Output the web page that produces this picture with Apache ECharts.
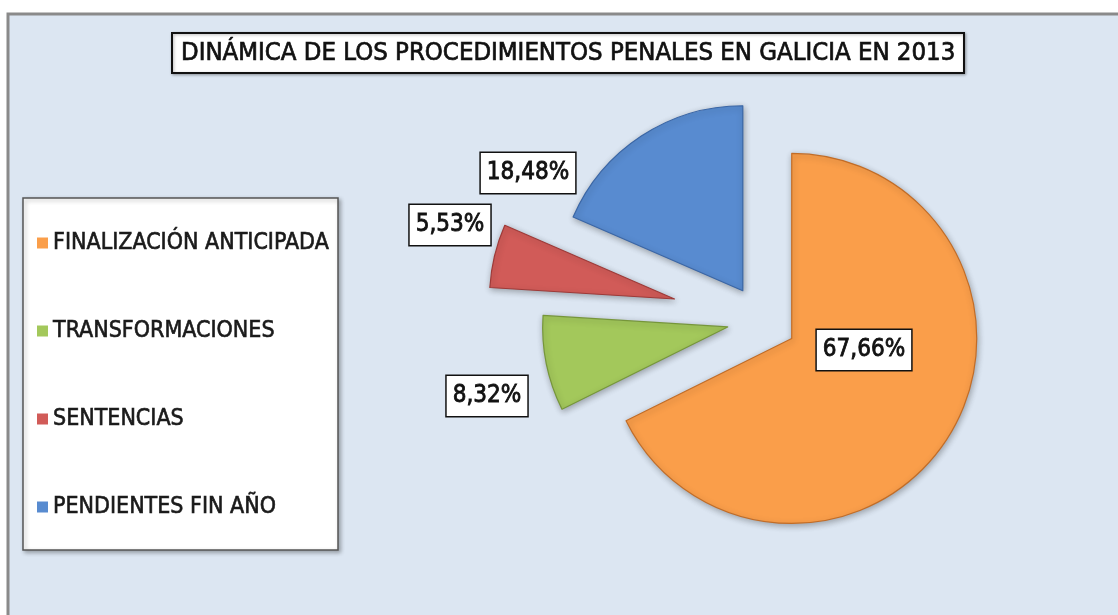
<!DOCTYPE html>
<html>
<head>
<meta charset="utf-8">
<script src="https://cdn.jsdelivr.net/npm/echarts@6/dist/echarts.min.js"></script>
<style>
  html, body { margin: 0; padding: 0; background: #fff; }
  #main { width: 1118px; height: 615px; }
</style>
</head>
<body>
<div id="main"></div>
<script>
// datos del gráfico
var categories = ['FINALIZACIÓN ANTICIPADA', 'TRANSFORMACIONES', 'SENTENCIAS', 'PENDIENTES FIN AÑO'];
var shares = [67.66, 8.32, 5.53, 18.48];

// estilo
var colors = ['#FA9E4A', '#A3C85B', '#D15B58', '#588BD0'];
var edges = ['#C26C26', '#76963A', '#9E3A38', '#3A66A6'];
var explode = [35, 35, 90, 35];
var labelPos = [[864, 350], [487, 396], [450, 225], [528, 173]];
var FONT = "'Liberation Sans Narrow', 'Arial Narrow', 'DejaVu Sans Condensed', sans-serif";
var CENTER = [762, 320];
var RADIUS = 185;

function pct(v) {
    return v.toFixed(2).replace('.', ',') + '%';
}

// una serie por porción, así cada una lleva su propio desplazamiento
var series = categories.map(function (name, k) {
    return {
        type: 'pie',
        center: CENTER,
        radius: RADIUS,
        startAngle: 90,
        silent: true,
        selectedMode: 'multiple',
        selectedOffset: explode[k],
        label: {show: false},
        labelLine: {show: false},
        emphasis: {disabled: true},
        data: categories.map(function (c, i) {
            var on = i === k;
            return {
                name: c,
                value: shares[i],
                selected: on,
                itemStyle: on ? {
                    color: colors[i],
                    borderColor: edges[i],
                    borderWidth: 1.2,
                    shadowBlur: 6,
                    shadowOffsetX: 1,
                    shadowOffsetY: 2,
                    shadowColor: 'rgba(0,0,0,0.3)'
                } : {opacity: 0}
            };
        })
    };
});

// etiquetas de porcentaje (porciones invisibles, solo texto)
series.push({
    type: 'pie',
    center: CENTER,
    radius: RADIUS,
    startAngle: 90,
    silent: true,
    z: 5,
    emphasis: {disabled: true},
    itemStyle: {color: 'rgba(0,0,0,0)', borderWidth: 0},
    labelLine: {show: false},
    label: {
        show: true,
        opacity: 1,
        position: 'inside',
        formatter: function (p) { return pct(p.value); },
        fontFamily: FONT,
        fontSize: 24,
        lineHeight: 24,
        color: '#111',
        textBorderColor: '#111',
        textBorderWidth: 0.8,
        backgroundColor: '#fff',
        borderColor: '#111',
        borderWidth: 1.5,
        padding: [8, 6, 8, 6]
    },
    labelLayout: function (p) {
        var pos = labelPos[p.dataIndex];
        return {x: pos[0], y: pos[1], align: 'center', verticalAlign: 'middle'};
    },
    data: categories.map(function (c, i) {
        return {name: c, value: shares[i]};
    })
});

var myChart = echarts.init(document.getElementById('main'));
myChart.setOption({
    animation: false,
    graphic: [
        {
            type: 'rect', z: -10,
            shape: {x: 8, y: 14, width: 1200, height: 700},
            style: {fill: '#DCE6F2', stroke: '#8A8A8A', lineWidth: 3}
        },
        {
            type: 'rect', z: -5,
            shape: {x: 23, y: 198, width: 315, height: 352},
            style: {
                fill: '#fff', stroke: '#555', lineWidth: 1.5,
                shadowBlur: 4, shadowOffsetX: 2, shadowOffsetY: 2, shadowColor: 'rgba(0,0,0,0.3)'
            }
        }
    ],
    title: {
        text: 'DINÁMICA DE LOS PROCEDIMIENTOS PENALES EN GALICIA EN 2013',
        left: 172,
        top: 33,
        backgroundColor: '#fff',
        borderColor: '#111',
        borderWidth: 2,
        padding: [6, 9, 6, 9],
        shadowBlur: 3,
        shadowOffsetX: 1,
        shadowOffsetY: 1,
        shadowColor: 'rgba(0,0,0,0.3)',
        textStyle: {
            fontFamily: FONT, fontSize: 25.5, lineHeight: 28, fontWeight: 'normal', color: '#111',
            textBorderColor: '#111', textBorderWidth: 0.7
        }
    },
    legend: {
        orient: 'vertical',
        left: 37,
        top: 231,
        padding: 0,
        icon: 'rect',
        itemWidth: 11,
        itemHeight: 11,
        itemGap: 64,
        selectedMode: false,
        textStyle: {
            fontFamily: FONT, fontSize: 23, lineHeight: 24, color: '#1a1a1a',
            textBorderColor: '#1a1a1a', textBorderWidth: 0.6
        },
        data: categories.map(function (c, i) {
            return {name: c, itemStyle: {color: colors[i], opacity: 1, borderWidth: 0}};
        })
    },
    series: series
});
</script>
</body>
</html>
